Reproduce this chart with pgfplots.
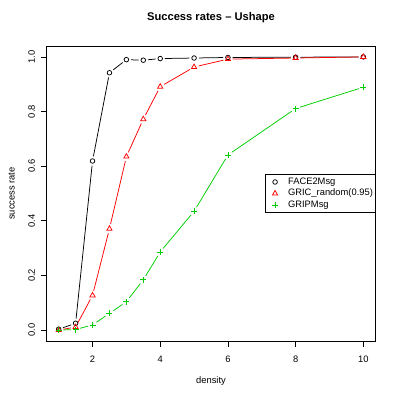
\documentclass[border=0pt]{standalone}
\usepackage{fontspec}
\setmainfont{Liberation Sans}
\usepackage{pgfplots}
\pgfplotsset{compat=1.18}
\definecolor{rred}{HTML}{FF0000}
\definecolor{rgreen}{HTML}{00CD00}
\newcommand\basefont{\fontsize{9.4}{11}\selectfont}
\newcommand\seg[3]{\addplot[#1,forget plot,no marks,line width=0.75bp,shorten <=4.7bp,shorten >=4.7bp] coordinates {#2 #3};}
\begin{document}
\begin{tikzpicture}
\path[use as bounding box] (0,0) rectangle (399bp,400bp);
\begin{axis}[
  at={(46.5bp,59bp)}, anchor=south west,
  scale only axis, width=329bp, height=295bp,
  xmin=0.64, xmax=10.36, ymin=-0.04, ymax=1.04,
  xtick={2,4,6,8,10}, ytick={0,0.2,0.4,0.6,0.8,1.0},
  xtick pos=bottom, ytick pos=left,
  tick align=outside, major tick length=5.5bp,
  every tick/.style={black, line width=0.8bp},
  axis line style={black, line width=0.8bp},
  /pgf/number format/assume math mode=true,
  tick label style={font=\basefont},
  yticklabel style={/pgf/number format/.cd, fixed, fixed zerofill, precision=1, /tikz/.cd, rotate=90, anchor=center, yshift=9.3bp},
  xticklabel style={anchor=center, yshift=-12.5bp},
  xlabel={density}, ylabel={success rate},
  label style={font=\basefont},
  xlabel style={at={(axis description cs:0.5,0)}, anchor=center, yshift=-40.5bp},
  ylabel style={at={(axis description cs:0,0.5)}, anchor=center, yshift=34.8bp},
  title={Success rates -- Ushape},
  title style={at={(axis description cs:0.5,1)}, anchor=center, yshift=22bp, font=\fontsize{11.2}{13}\selectfont\bfseries},
  legend style={at={(1,0.5)}, anchor=east, draw=black, line width=0.8bp, fill=white,
    inner xsep=2.2bp, inner ysep=3bp, row sep=2.5bp, column sep=0pt,
    font=\basefont, nodes={inner xsep=0pt, inner ysep=0pt, text height=7bp, text depth=2bp}},
  legend cell align=left,
  legend image code/.code={\path (-6.8bp,0) (12.6bp,0); \draw[#1] plot[only marks] coordinates {(0bp,0bp)};},
]
% FACE2Msg
\seg{black}{(1,0.003)}{(1.5,0.025)}
\seg{black}{(1.5,0.025)}{(2,0.619)}
\seg{black}{(2,0.619)}{(2.5,0.942)}
\seg{black}{(2.5,0.942)}{(3,0.990)}
\seg{black}{(3,0.990)}{(3.5,0.988)}
\seg{black}{(3.5,0.988)}{(4,0.994)}
\seg{black}{(4,0.994)}{(5,0.996)}
\seg{black}{(5,0.996)}{(6,0.998)}
\seg{black}{(6,0.998)}{(8,0.999)}
\seg{black}{(8,0.999)}{(10,1.0)}
\addplot[black, only marks, mark=o, mark size=2.3bp, mark options={line width=0.75bp}]
  coordinates {(1,0.003)(1.5,0.025)(2,0.619)(2.5,0.942)(3,0.990)(3.5,0.988)(4,0.994)(5,0.996)(6,0.998)(8,0.999)(10,1.0)};
\addlegendentry{FACE2Msg}
% GRIC_random(0.95)
\seg{rred}{(1,0.0)}{(1.5,0.011)}
\seg{rred}{(1.5,0.011)}{(2,0.127)}
\seg{rred}{(2,0.127)}{(2.5,0.371)}
\seg{rred}{(2.5,0.371)}{(3,0.635)}
\seg{rred}{(3,0.635)}{(3.5,0.772)}
\seg{rred}{(3.5,0.772)}{(4,0.891)}
\seg{rred}{(4,0.891)}{(5,0.963)}
\seg{rred}{(5,0.963)}{(6,0.992)}
\seg{rred}{(6,0.992)}{(8,0.996)}
\seg{rred}{(8,0.996)}{(10,1.0)}
\addplot[rred, only marks, mark=triangle, mark size=3bp, mark options={line width=0.75bp}]
  coordinates {(1,0.0)(1.5,0.011)(2,0.127)(2.5,0.371)(3,0.635)(3.5,0.772)(4,0.891)(5,0.963)(6,0.992)(8,0.996)(10,1.0)};
\addlegendentry{GRIC\_random(0.95)}
% GRIPMsg
\seg{rgreen}{(1,0.0)}{(1.5,0.002)}
\seg{rgreen}{(1.5,0.002)}{(2,0.019)}
\seg{rgreen}{(2,0.019)}{(2.5,0.061)}
\seg{rgreen}{(2.5,0.061)}{(3,0.104)}
\seg{rgreen}{(3,0.104)}{(3.5,0.184)}
\seg{rgreen}{(3.5,0.184)}{(4,0.286)}
\seg{rgreen}{(4,0.286)}{(5,0.435)}
\seg{rgreen}{(5,0.435)}{(6,0.641)}
\seg{rgreen}{(6,0.641)}{(8,0.811)}
\seg{rgreen}{(8,0.811)}{(10,0.889)}
\addplot[rgreen, only marks, mark=+, mark size=3bp, mark options={line width=0.75bp}]
  coordinates {(1,0.0)(1.5,0.002)(2,0.019)(2.5,0.061)(3,0.104)(3.5,0.184)(4,0.286)(5,0.435)(6,0.641)(8,0.811)(10,0.889)};
\addlegendentry{GRIPMsg}
\end{axis}
\end{tikzpicture}
\end{document}
